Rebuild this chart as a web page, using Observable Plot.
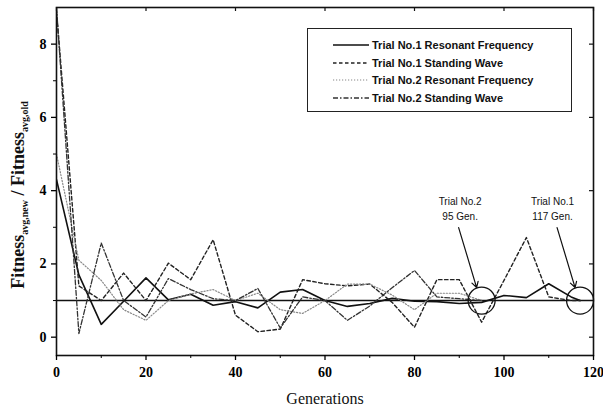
<!DOCTYPE html>
<html>
<head>
<meta charset="utf-8">
<script src="https://cdn.jsdelivr.net/npm/d3@7"></script>
<script src="https://cdn.jsdelivr.net/npm/@observablehq/plot@0.6"></script>
<style>
  body { margin: 0; background: #fff; }
  #wrap { position: relative; width: 603px; height: 413px; }
  #legend { position: absolute; left: 307px; top: 28px; width: 263px; height: 82px;
    border: 1.2px solid #222; background: #fff; font-family: "Liberation Sans", Arial, sans-serif;
    font-weight: bold; font-size: 11px; color: #111; }
  .row { position: absolute; left: 25px; height: 14px; display: flex; align-items: center; }
  .row svg { margin-right: 3px; }
</style>
</head>
<body>
<div id="wrap"></div>
<script>
// ---- data ----
const gensT2 = [0,5,10,15,20,25,30,35,40,45,50,55,60,65,70,75,80,85,90,95];
const gensT1 = [0,5,10,15,20,25,30,35,40,45,50,55,60,65,70,75,80,85,90,95,100,105,110,115,117];
const t1Resonant = [4.3,1.7,0.35,0.98,1.62,1.02,1.17,0.87,0.97,0.8,1.23,1.3,1.0,0.84,0.92,1.06,0.98,0.97,0.92,0.95,1.14,1.08,1.46,1.1,1.0];
const t1Standing = [8.9,1.4,1.0,1.75,1.0,2.02,1.57,2.66,0.6,0.15,0.22,1.57,1.46,1.4,1.45,0.95,0.27,1.57,1.57,0.41,1.55,2.72,1.1,1.0,1.0];
const t2Resonant = [5.0,2.1,1.55,0.75,0.46,1.0,1.18,1.3,1.0,1.2,0.75,0.65,1.0,1.45,1.45,1.15,0.75,1.2,1.2,1.0];
const t2Standing = [9.0,0.1,2.57,1.0,0.55,1.6,1.3,1.05,1.0,1.33,0.25,1.1,1.0,0.46,0.85,1.35,1.82,1.1,1.05,1.0];
const seriesNames = ["Trial No.1 Resonant Frequency","Trial No.1 Standing Wave","Trial No.2 Resonant Frequency","Trial No.2 Standing Wave"];
const xTicks = [0,20,40,60,80,100,120];
const xMinor = [10,30,50,70,90,110];
const yTicks = [0,2,4,6,8];
const yMinor = [1,3,5,7];
const refLevel = [1];
const convGen = [95,117];
const convLabel = ["Trial No.2","Trial No.1"];
const convText = ["95 Gen.","117 Gen."];

// ---- styles ----
const styles = [
  {stroke:"#111", strokeWidth:1.6, dash:null},
  {stroke:"#222", strokeWidth:1.4, dash:"3.5,2.5"},
  {stroke:"#888", strokeWidth:1.2, dash:"1.2,1.8"},
  {stroke:"#333", strokeWidth:1.3, dash:"5,2,1.5,2"}
];

const rows = (g, v) => g.map((x,i) => ({x, y: v[i]}));
const seriesData = [rows(gensT1,t1Resonant), rows(gensT1,t1Standing), rows(gensT2,t2Resonant), rows(gensT2,t2Standing)];

const W = 603, H = 413, mL = 56, mR = 10, mT = 7, mB = 58;
const pxX = (W - mL - mR) / 120, pxY = (H - mT - mB) / 9.5;
const annot = convGen.map((g,i) => ({gen:g, label:convLabel[i], text:convText[i], dx: i===0 ? -21 : -27}));

const lineMarks = seriesData.map((d,i) => Plot.line(d, {x:"x", y:"y", stroke: styles[i].stroke,
  strokeWidth: styles[i].strokeWidth, strokeDasharray: styles[i].dash, clip: true}));

const serif = "Liberation Serif, Times New Roman, serif";
const sans = "Liberation Sans, Arial, sans-serif";

const chart = Plot.plot({
  width: W, height: H, marginLeft: mL, marginRight: mR, marginTop: mT, marginBottom: mB,
  x: {domain:[0,120]},
  y: {domain:[-0.5,9]},
  style: {background:"#fff"},
  marks: [
    Plot.ruleY(refLevel, {stroke:"#111", strokeWidth:1.5}),
    ...lineMarks,
    Plot.frame({stroke:"#111", strokeWidth:1.6}),
    Plot.axisX(xTicks, {tickSize:5, tickPadding:7, fontFamily:serif, fontWeight:"bold", fontSize:14, label:null, strokeWidth:1.3}),
    Plot.axisX(xMinor, {tickSize:3, tickFormat:() => "", label:null}),
    Plot.axisY(yTicks, {tickSize:5, tickPadding:5, fontFamily:serif, fontWeight:"bold", fontSize:14, label:null, strokeWidth:1.3}),
    Plot.axisY(yMinor, {tickSize:3, tickFormat:() => "", label:null}),
    Plot.ruleX(xTicks, {x: d=>d, y1: 9, y2: 9 - 4/pxY, stroke:"#111", strokeWidth:1.2}),
    Plot.ruleY(yTicks, {y: d=>d, x1: 120, x2: 120 - 4/pxX, stroke:"#111", strokeWidth:1.2}),
    Plot.text(["Generations"], {frameAnchor:"bottom", dy:48, fontFamily:serif, fontSize:16, fill:"#111"}),
    Plot.dot(annot, {x:"gen", y: () => refLevel[0], r: 13.5, stroke:"#111", strokeWidth:1.3, fill:"none"}),
    Plot.arrow(annot, {x1: d => d.gen - 23/pxX, y1: d => refLevel[0] + 73/pxY, x2: d => d.gen - 5/pxX, y2: d => refLevel[0] + 13/pxY,
      stroke:"#111", strokeWidth:1.2, headLength:8})
  ]
});

const wrap = document.getElementById("wrap");
wrap.appendChild(chart);

// annotation labels (two lines), placed through the chart's own scales
const svg = d3.select(chart);
const sx = chart.scale("x"), sy = chart.scale("y");
annot.forEach(a => {
  const cx = sx.apply(a.gen) + a.dx;
  const cy = sy.apply(refLevel[0]);
  svg.append("text").attr("x", cx).attr("y", cy - 95).attr("text-anchor","middle")
    .attr("font-family", sans).attr("font-size", 10).attr("fill","#111").text(a.label);
  svg.append("text").attr("x", cx).attr("y", cy - 80).attr("text-anchor","middle")
    .attr("font-family", sans).attr("font-size", 10).attr("fill","#111").text(a.text);
});

// y-axis label with subscripts
const yl = svg.append("text")
  .attr("transform", "translate(24,195) rotate(-90)")
  .attr("text-anchor", "middle")
  .attr("font-family", serif).attr("font-weight", "bold").attr("font-size", 18).attr("fill", "#111");
yl.append("tspan").text("Fitness");
yl.append("tspan").attr("font-size", 10).attr("dy", 4).text("avg,new");
yl.append("tspan").attr("dy", -4).text(" / Fitness");
yl.append("tspan").attr("font-size", 10).attr("dy", 4).text("avg,old");

// legend
const legend = document.createElement("div");
legend.id = "legend";
const rowTops = [9, 27, 44, 62];
seriesNames.forEach((name, i) => {
  const r = document.createElement("div");
  r.className = "row";
  r.style.top = rowTops[i] + "px";
  const s = styles[i];
  r.innerHTML = `<svg width="36" height="8"><line x1="0" y1="4" x2="36" y2="4" stroke="${s.stroke}" stroke-width="${s.strokeWidth}" ${s.dash ? `stroke-dasharray="${s.dash}"` : ""}/></svg><span>${name}</span>`;
  legend.appendChild(r);
});
wrap.appendChild(legend);
</script>
</body>
</html>
